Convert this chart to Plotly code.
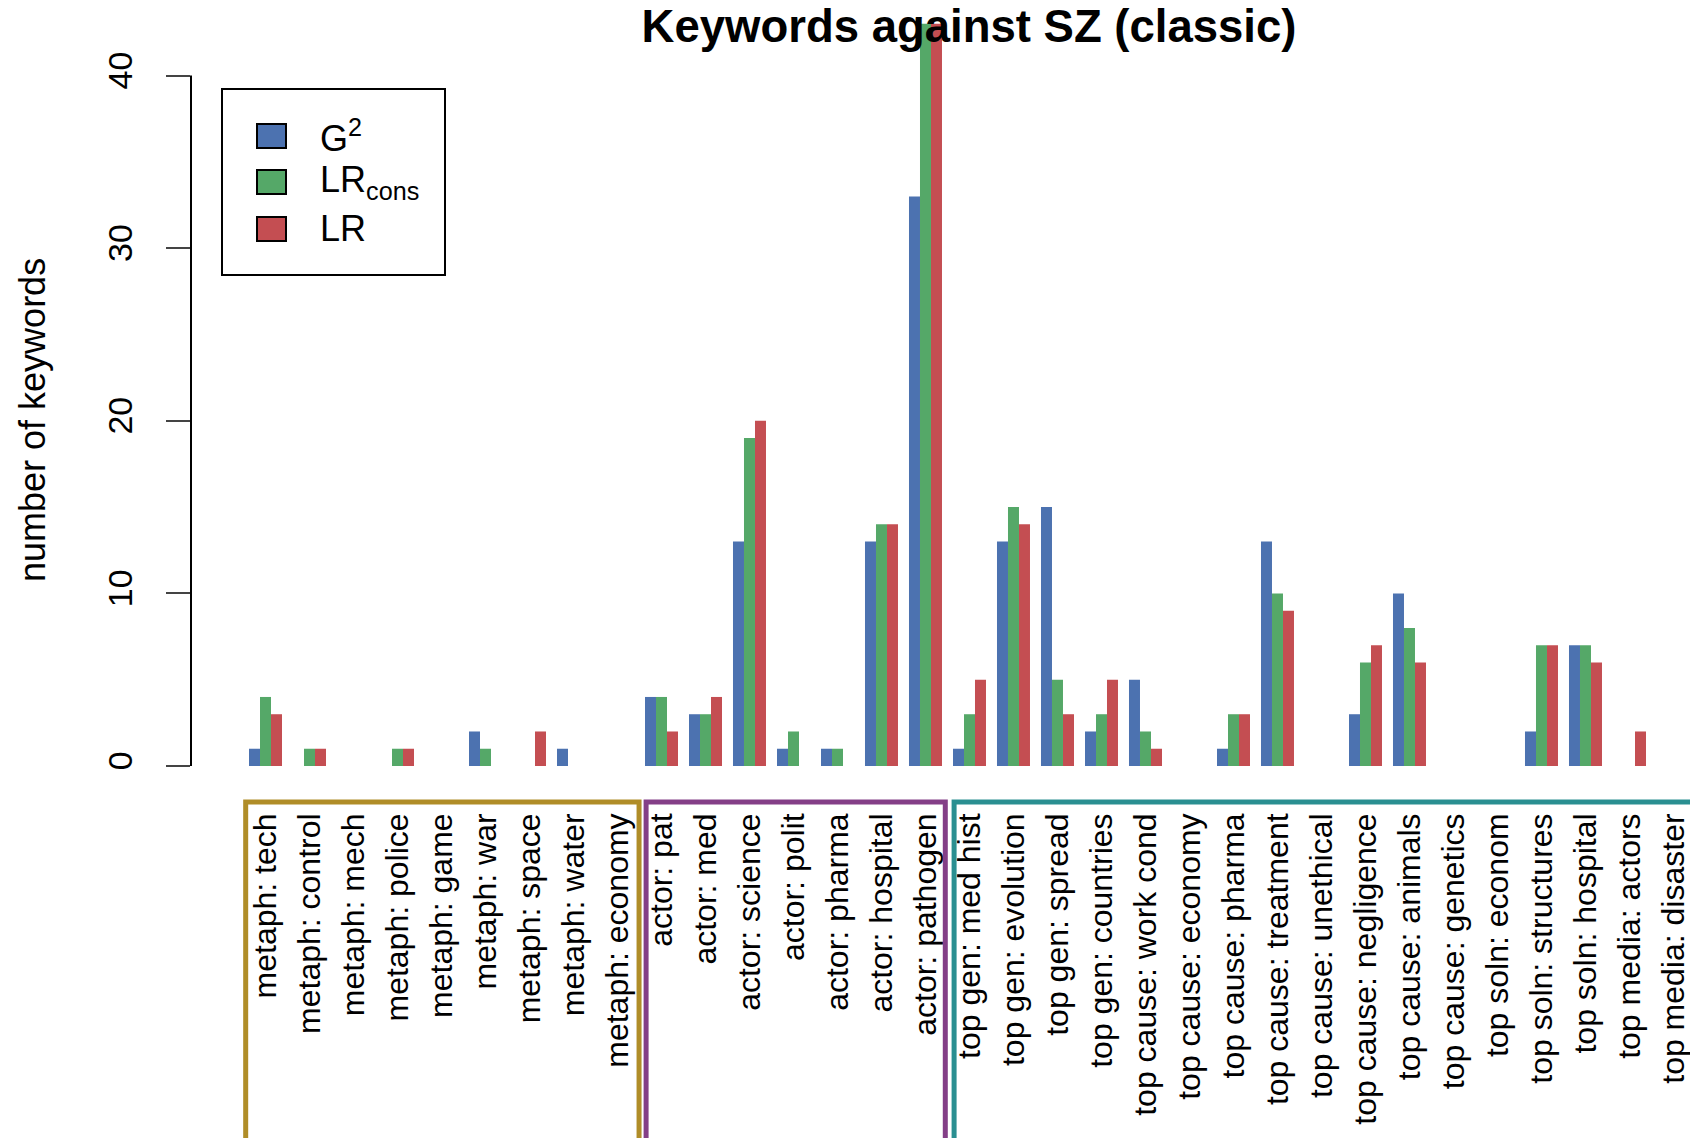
import plotly.graph_objects as go

categories = [
    "metaph: tech", "metaph: control", "metaph: mech", "metaph: police", "metaph: game",
    "metaph: war", "metaph: space", "metaph: water", "metaph: economy",
    "actor: pat", "actor: med", "actor: science", "actor: polit", "actor: pharma",
    "actor: hospital", "actor: pathogen",
    "top gen: med hist", "top gen: evolution", "top gen: spread", "top gen: countries",
    "top cause: work cond", "top cause: economy", "top cause: pharma", "top cause: treatment",
    "top cause: unethical", "top cause: negligence", "top cause: animals", "top cause: genetics",
    "top soln: econom", "top soln: structures", "top soln: hospital",
    "top media: actors", "top media: disaster",
]
g2 = [1, 0, 0, 0, 0, 2, 0, 1, 0,
      4, 3, 13, 1, 1, 13, 33,
      1, 13, 15, 2, 5, 0, 1, 13, 0, 3, 10, 0, 0, 2, 7, 0, 0]
lr_cons = [4, 1, 0, 1, 0, 1, 0, 0, 0,
           4, 3, 19, 2, 1, 14, 43,
           3, 15, 5, 3, 2, 0, 3, 10, 0, 6, 8, 0, 0, 7, 7, 0, 0]
lr = [3, 1, 0, 1, 0, 0, 2, 0, 0,
      2, 4, 20, 0, 0, 14, 43,
      5, 14, 3, 5, 1, 0, 3, 9, 0, 7, 6, 0, 0, 7, 6, 2, 0]

series_names = ["G<sup>2</sup>", "LR<sub>cons</sub>", "LR"]
series_colors = ["#4C72B0", "#55A868", "#C44E52"]
y_ticks = [0, 10, 20, 30, 40]

# category groups framed below the axis: (first index, last index, colour)
groups = [(0, 8, "#B08D28"), (9, 15, "#843F87"), (16, 32, "#2A8F91")]

# page has an 8px body margin, so work in page pixels and shift
OFF = 8
W, H = 1698 - OFF, 1138 - OFF
L, T, B = 191 - OFF, 0, 342
plot_h = H - T - B
FONT = "Liberation Sans, Arial, sans-serif"


def px(x):
    return (x - OFF - L) / (W - L)


def py(y):
    return (H - B - (y - OFF)) / plot_h


unit = 17.26
zero_y = 766 - OFF
y_top = zero_y / unit
y_bot = -(T + plot_h - zero_y) / unit

fig = go.Figure()
for name, vals, col in zip(series_names, [g2, lr_cons, lr], series_colors):
    fig.add_bar(x=categories, y=vals, name=name, marker_color=col,
                marker_line_width=0, showlegend=False)

shapes = []
# y axis line only spanning the ticks (R style)
shapes.append(dict(type="line", xref="paper", yref="y", x0=0, x1=0,
                   y0=y_ticks[0], y1=y_ticks[-1], line=dict(color="black", width=2)))

# boxes around the label groups
for i0, i1, col in groups:
    x0 = i0 - 0.45 if i0 == 0 else i0 - 0.35
    x1 = i1 + 0.49 if i1 == 8 else (i1 + 0.45 if i1 == 15 else i1 + 1.5)
    shapes.append(dict(type="rect", xref="x", yref="paper", x0=x0, x1=x1,
                       y0=py(1200), y1=py(802), line=dict(color=col, width=5)))

# legend drawn by hand
shapes.append(dict(type="rect", xref="paper", yref="paper", x0=px(222), x1=px(445),
                   y0=py(275), y1=py(89), line=dict(color="black", width=2)))
annotations = []
rows = [136, 182, 229]
for name, col, yc in zip(series_names, series_colors, rows):
    shapes.append(dict(type="rect", xref="paper", yref="paper", x0=px(257), x1=px(286),
                       y0=py(yc + 12), y1=py(yc - 12), fillcolor=col,
                       line=dict(color="black", width=2)))
    annotations.append(dict(xref="paper", yref="paper", x=px(318), y=py(yc),
                            xanchor="left", yanchor="middle", text=name, showarrow=False,
                            font=dict(size=36, family=FONT, color="black")))

annotations.append(dict(xref="paper", yref="paper", x=px(32), y=py(420), text="number of keywords",
                        textangle=-90, showarrow=False, xanchor="center", yanchor="middle",
                        font=dict(size=36, family=FONT, color="black")))

fig.update_layout(
    width=W, height=H,
    margin=dict(l=L, r=0, t=T, b=B, autoexpand=False),
    paper_bgcolor="white", plot_bgcolor="white",
    barmode="group", bargap=0.25, bargroupgap=0,
    font=dict(family=FONT, color="black"),
    title=dict(text="<b>Keywords against SZ (classic)</b>", x=px(969), xref="paper",
               xanchor="center", y=1 - (26 - OFF) / H, yref="container", yanchor="middle",
               automargin=False, font=dict(size=45.5, family=FONT, color="black")),
    shapes=shapes, annotations=annotations,
    xaxis=dict(range=[-1.693, 32.557], showline=False, showgrid=False, zeroline=False,
               ticks="", tickangle=-90, tickfont=dict(size=32, family=FONT),
               ticklabelstandoff=10, automargin=False),
    yaxis=dict(range=[y_bot, y_top], showline=False, showgrid=False, zeroline=False,
               tickvals=y_ticks, ticks="outside", ticklen=24, tickwidth=2,
               tickangle=-90, tickfont=dict(size=34, family=FONT),
               ticklabelstandoff=20, automargin=False),
)

fig.write_html("out.html")
